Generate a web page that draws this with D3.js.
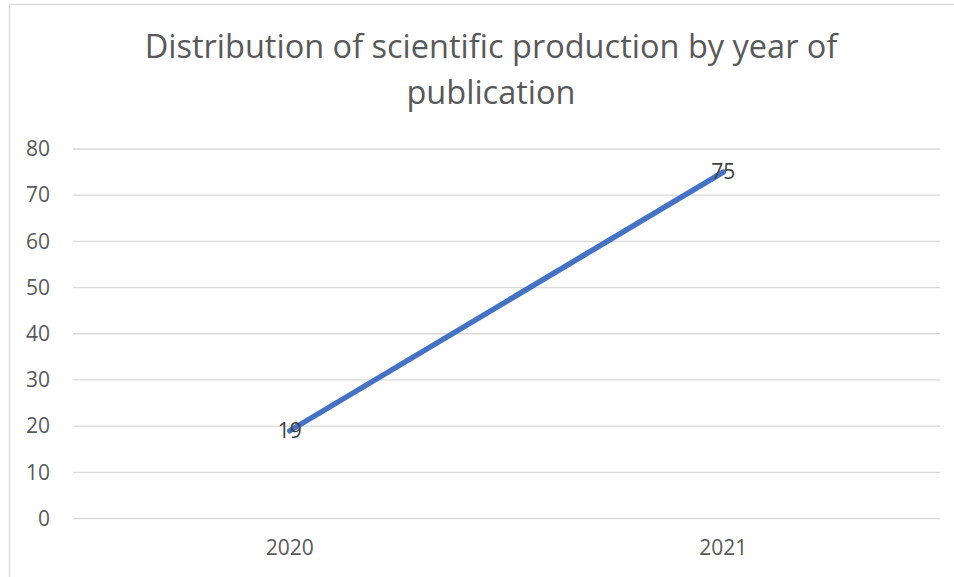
<!DOCTYPE html>
<html><head><meta charset="utf-8">
<script src="https://cdn.jsdelivr.net/npm/d3@7"></script>
<style>html,body{margin:0;padding:0;background:#fff;}</style>
</head><body>
<svg id="chart" width="954" height="577"></svg>
<script>
const titleLines = ["Distribution of scientific production by year of", "publication"];
const years = ["2020", "2021"];
const counts = [19, 75];
const yTicks = [0, 10, 20, 30, 40, 50, 60, 70, 80];

const svg = d3.select("#chart");
const font = "'Open Sans', 'Noto Sans', sans-serif";
const W = 954, H = 577;
const m = {left: 73, right: 14, top: 149, bottom: 58.5};

svg.append("rect").attr("x", 9.5).attr("y", 4.5).attr("width", W).attr("height", H)
  .attr("fill", "#fff").attr("stroke", "#d9d9d9").attr("stroke-width", 1.3);

const x = d3.scaleBand().domain(years).range([m.left, W - m.right]).padding(0);
const y = d3.scaleLinear().domain([0, 80]).range([H - m.bottom, m.top]);

// gridlines
svg.append("g").selectAll("line").data(yTicks).join("line")
  .attr("x1", m.left).attr("x2", W - m.right)
  .attr("y1", d => y(d)).attr("y2", d => y(d))
  .attr("stroke", "#d9d9d9").attr("stroke-width", 1.3);

// y axis labels
const yAxis = d3.axisLeft(y).tickValues(yTicks).tickSize(0).tickPadding(0);
const gy = svg.append("g").attr("transform", `translate(50,0)`).call(yAxis);
gy.select(".domain").remove();
gy.selectAll("text").attr("font-family", font).attr("font-size", 21).attr("fill", "#595959");

// x axis labels
const xAxis = d3.axisBottom(x).tickSize(0).tickPadding(0);
const gx = svg.append("g").attr("transform", `translate(0,${H - m.bottom + 22})`).call(xAxis);
gx.select(".domain").remove();
gx.selectAll("text").attr("font-family", font).attr("font-size", 21).attr("fill", "#595959");

// line
const pts = years.map((yr, i) => ({yr, v: counts[i]}));
const line = d3.line().x(d => x(d.yr) + x.bandwidth() / 2).y(d => y(d.v));
svg.append("path").datum(pts).attr("d", line)
  .attr("fill", "none").attr("stroke", "#4472C4").attr("stroke-width", 5.5)
  .attr("stroke-linecap", "round");

// data labels
svg.append("g").selectAll("text").data(pts).join("text")
  .attr("x", d => x(d.yr) + x.bandwidth() / 2)
  .attr("y", d => y(d.v))
  .attr("dy", "0.35em")
  .attr("text-anchor", "middle")
  .attr("font-family", font).attr("font-size", 21).attr("fill", "#404040")
  .text(d => d.v);

// title
const tg = svg.append("g");
const t1 = tg.append("text").attr("x", 491).attr("y", 58).attr("text-anchor", "middle")
  .attr("font-family", font).attr("font-size", 30).attr("fill", "#595959").text(titleLines[0]);
const w1 = t1.node().getComputedTextLength();
const fs = 30 * 693 / w1;
t1.attr("font-size", fs);
tg.append("text").attr("x", 491).attr("y", 104).attr("text-anchor", "middle")
  .attr("font-family", font).attr("font-size", fs).attr("fill", "#595959").text(titleLines[1]);
</script>
</body></html>
